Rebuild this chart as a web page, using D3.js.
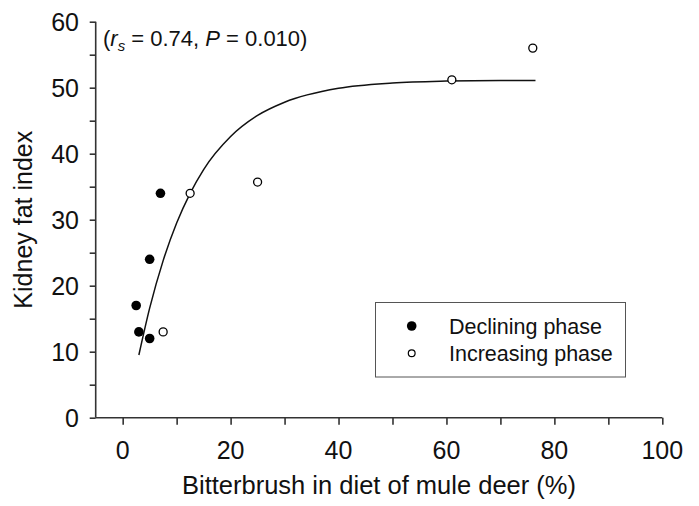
<!DOCTYPE html>
<html>
<head>
<meta charset="utf-8">
<script src="https://cdn.jsdelivr.net/npm/d3@7"></script>
<style>
  html, body { margin: 0; padding: 0; background: #fff; }
  svg { display: block; }
  text { font-family: "Liberation Sans", Arial, sans-serif; fill: #111; }
</style>
</head>
<body>
<svg id="chart" width="699" height="506"></svg>
<script>
// Declining phase (filled circles)
const declX = [2.5, 3, 5, 5, 7];
const declY = [17, 13, 12, 24, 34];
// Increasing phase (open circles)
const incX = [7.5, 12.5, 25, 61, 76];
const incY = [13, 34, 35.7, 51.2, 56];
// Fitted curve
const curveX = [3, 5, 7.5, 10, 12.5, 15, 20, 25, 30, 40, 50, 60, 70, 76.5];
const curveY = [9.5, 16.6, 23.8, 29.5, 34.0, 37.6, 42.6, 45.8, 47.8, 49.9, 50.7, 51.0, 51.1, 51.1];
// Ticks
const xTicks = [0, 20, 40, 60, 80, 100];
const xMinor = [0, 10, 20, 30, 40, 50, 60, 70, 80, 90, 100];
const yTicks = [0, 10, 20, 30, 40, 50, 60];
const yMinor = [0, 5, 10, 15, 20, 25, 30, 35, 40, 45, 50, 55, 60];
const legendLabels = ["Declining phase", "Increasing phase"];

const svg = d3.select("#chart");
const x = d3.scaleLinear().domain([-5, 100]).range([95.7, 662.3]);
const y = d3.scaleLinear().domain([0, 60]).range([417.7, 21.7]);
const axisColor = "#333";

// X axis
const xAxisMinor = d3.axisBottom(x).tickValues(xMinor).tickSize(7).tickFormat("");
const gx = svg.append("g").attr("transform", `translate(0,${y(0)})`).call(xAxisMinor);
gx.select(".domain").attr("d", `M${x(-5)},0H${x(100)}`);
gx.selectAll("line, path").attr("stroke", axisColor).attr("stroke-width", 1.6);
svg.append("g").selectAll("text").data(xTicks).join("text")
  .attr("x", d => x(d)).attr("y", 459)
  .attr("text-anchor", "middle").style("font-size", "25px")
  .text(d => d);

// Y axis
const yAxisMinor = d3.axisLeft(y).tickValues(yMinor).tickSize(6).tickFormat("");
const gy = svg.append("g").attr("transform", `translate(${x(-5)},0)`).call(yAxisMinor);
gy.select(".domain").attr("d", `M0,${y(0)}V${y(60)}`);
gy.selectAll("line, path").attr("stroke", axisColor).attr("stroke-width", 1.6);
svg.append("g").selectAll("text").data(yTicks).join("text")
  .attr("x", 79).attr("y", d => y(d) + 8.8)
  .attr("text-anchor", "end").style("font-size", "25px")
  .text(d => d);

// Axis titles
svg.append("text").attr("x", (x(-5) + x(100)) / 2).attr("y", 494)
  .attr("text-anchor", "middle").style("font-size", "25.5px")
  .text("Bitterbrush in diet of mule deer (%)");
svg.append("text").attr("transform", `translate(32,${(y(0) + y(60)) / 2}) rotate(-90)`)
  .attr("text-anchor", "middle").style("font-size", "25px")
  .text("Kidney fat index");

// Annotation
const ann = svg.append("text").attr("x", 103).attr("y", 46).style("font-size", "22px");
ann.append("tspan").text("(");
ann.append("tspan").style("font-style", "italic").text("r");
ann.append("tspan").style("font-style", "italic").style("font-size", "15px").attr("dy", 5).text("s");
ann.append("tspan").attr("dy", -5).text(" = 0.74, ");
ann.append("tspan").style("font-style", "italic").text("P");
ann.append("tspan").text(" = 0.010)");

// Curve
const line = d3.line().x((d, i) => x(curveX[i])).y(d => y(d)).curve(d3.curveMonotoneX);
svg.append("path").datum(curveY).attr("d", line)
  .attr("fill", "none").attr("stroke", "#111").attr("stroke-width", 1.5);

// Points
svg.append("g").selectAll("circle").data(declX).join("circle")
  .attr("cx", d => x(d)).attr("cy", (d, i) => y(declY[i])).attr("r", 4.8)
  .attr("fill", "#000");
svg.append("g").selectAll("circle").data(incX).join("circle")
  .attr("cx", d => x(d)).attr("cy", (d, i) => y(incY[i])).attr("r", 4)
  .attr("fill", "#fff").attr("stroke", "#000").attr("stroke-width", 1.3);

// Legend
const lg = svg.append("g");
lg.append("rect").attr("x", 375.5).attr("y", 302.5).attr("width", 250).attr("height", 74.5)
  .attr("fill", "#fff").attr("stroke", "#555").attr("stroke-width", 1);
lg.append("circle").attr("cx", 411.7).attr("cy", 326).attr("r", 4.8).attr("fill", "#000");
lg.append("circle").attr("cx", 411.7).attr("cy", 353.3).attr("r", 3.4)
  .attr("fill", "#fff").attr("stroke", "#000").attr("stroke-width", 1.2);
lg.selectAll("text.lab").data(legendLabels).join("text").attr("class", "lab")
  .attr("x", 449).attr("y", (d, i) => 333.5 + i * 27)
  .style("font-size", "21.5px").text(d => d);
</script>
</body>
</html>
